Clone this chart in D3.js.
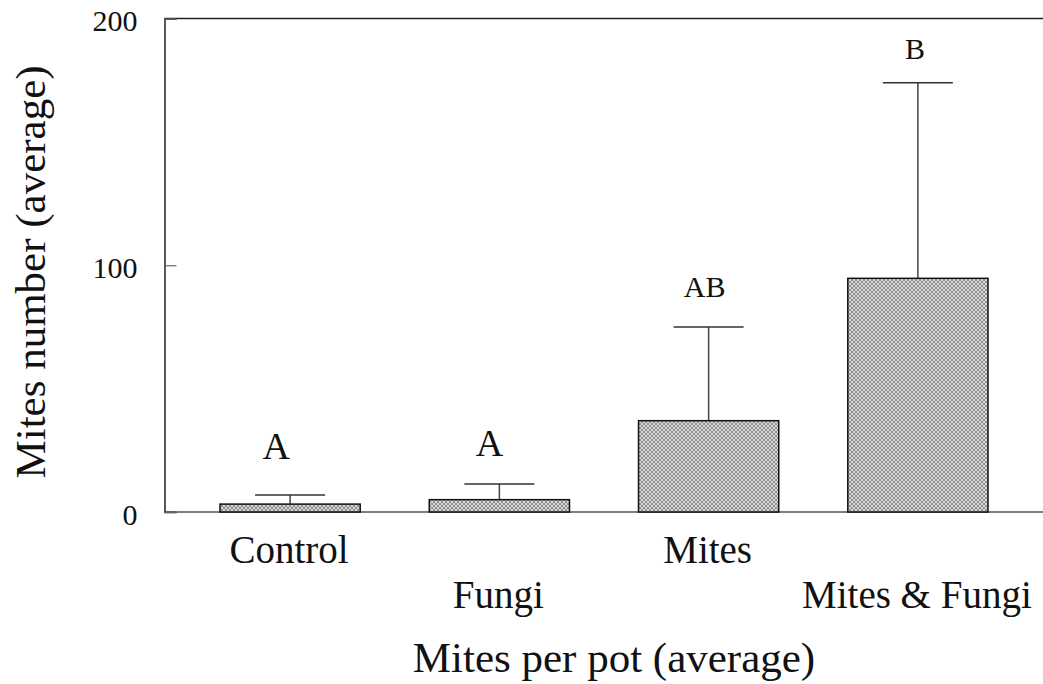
<!DOCTYPE html>
<html>
<head>
<meta charset="utf-8">
<script src="https://cdn.jsdelivr.net/npm/d3@7"></script>
<style>
  html, body { margin: 0; padding: 0; background: #fff; }
  svg text { font-family: "Liberation Serif", "Times New Roman", serif; fill: #111; }
</style>
</head>
<body>
<svg id="chart" width="1043" height="684"></svg>
<script>
// Treatments and measured mite counts
const categories = ["Control", "Fungi", "Mites", "Mites & Fungi"];
const means = [3.2, 5.0, 37, 94.7];
const errors = [3.7, 6.3, 38, 79.3];
const groupLetters = ["A", "A", "AB", "B"];
const yTicks = [0, 100, 200];

const svg = d3.select("#chart");
const W = 1043;
const plotLeft = 164.5, plotTop = 18.5, plotBottom = 512;

const x = d3.scaleBand()
  .domain(categories)
  .range([220, 988])
  .paddingInner(0.33)
  .paddingOuter(0);

const y = d3.scaleLinear().domain([0, 200]).range([plotBottom, plotTop]);

// fine cross-hatch fill for the bars
const defs = svg.append("defs");
const pat = defs.append("pattern")
  .attr("id", "hatch")
  .attr("patternUnits", "userSpaceOnUse")
  .attr("width", 4).attr("height", 4);
pat.append("rect").attr("width", 4).attr("height", 4).attr("fill", "#d6d6d6");
pat.append("path").attr("d", "M-1,1 l2,-2 M0,4 l4,-4 M3,5 l2,-2")
  .attr("stroke", "#7a7a7a").attr("stroke-width", 0.75);
pat.append("path").attr("d", "M-1,3 l2,2 M0,0 l4,4 M3,-1 l2,2")
  .attr("stroke", "#7a7a7a").attr("stroke-width", 0.75);

// frame: top and bottom lines running off to the right
svg.append("line")
  .attr("x1", plotLeft).attr("x2", W).attr("y1", plotTop).attr("y2", plotTop)
  .attr("stroke", "#222").attr("stroke-width", 1.5);
svg.append("line")
  .attr("x1", plotLeft).attr("x2", W).attr("y1", plotBottom).attr("y2", plotBottom)
  .attr("stroke", "#555").attr("stroke-width", 1.5);

// y axis with inward ticks
const yAxis = svg.append("g")
  .attr("transform", `translate(${plotLeft},0)`)
  .call(d3.axisLeft(y).tickValues(yTicks).tickSize(-12).tickPadding(27));
yAxis.select(".domain").attr("stroke", "#222").attr("stroke-width", 1.5);
yAxis.selectAll(".tick line").attr("stroke", "#666").attr("stroke-width", 1.2);
yAxis.selectAll(".tick text")
  .attr("font-family", "Liberation Serif, serif")
  .attr("font-size", 30)
  .attr("fill", "#111")
  .attr("dy", "0.4em");

// error bars
const cx = d => x(d) + x.bandwidth() / 2;
const eb = svg.append("g");
categories.forEach((c, i) => {
  const yEnd = y(means[i] + errors[i]);
  eb.append("line")
    .attr("x1", cx(c)).attr("x2", cx(c))
    .attr("y1", y(means[i])).attr("y2", yEnd)
    .attr("stroke", "#444").attr("stroke-width", 1.5);
  eb.append("line")
    .attr("x1", cx(c) - 35).attr("x2", cx(c) + 35)
    .attr("y1", yEnd).attr("y2", yEnd)
    .attr("stroke", "#333").attr("stroke-width", 1.5);
});

// bars
svg.append("g").selectAll("rect")
  .data(categories)
  .join("rect")
  .attr("x", d => x(d))
  .attr("y", (d, i) => y(means[i]))
  .attr("width", x.bandwidth())
  .attr("height", (d, i) => y(0) - y(means[i]))
  .attr("fill", "url(#hatch)")
  .attr("stroke", "#111")
  .attr("stroke-width", 1.5);

// significance letters above each error bar
const letterGap = [36, 28, 30, 24];
const letterShift = [-14, -10, -4, -3];
svg.append("g").selectAll("text")
  .data(groupLetters)
  .join("text")
  .attr("x", (d, i) => cx(categories[i]) + letterShift[i])
  .attr("y", (d, i) => y(means[i] + errors[i]) - letterGap[i])
  .attr("text-anchor", "middle")
  .attr("font-size", d => d === "A" ? 38 : 30)
  .text(d => d);

// category labels, staggered on two rows
svg.append("g").selectAll("text")
  .data(categories)
  .join("text")
  .attr("x", d => cx(d) - 1)
  .attr("y", (d, i) => i % 2 === 0 ? 563 : 608)
  .attr("text-anchor", "middle")
  .attr("font-size", 39)
  .text(d => d);

// axis titles
svg.append("text")
  .attr("x", 614).attr("y", 672)
  .attr("text-anchor", "middle")
  .attr("font-size", 43)
  .text("Mites per pot (average)");

svg.append("text")
  .attr("transform", "translate(45,272) rotate(-90)")
  .attr("text-anchor", "middle")
  .attr("font-size", 43)
  .text("Mites number (average)");
</script>
</body>
</html>
